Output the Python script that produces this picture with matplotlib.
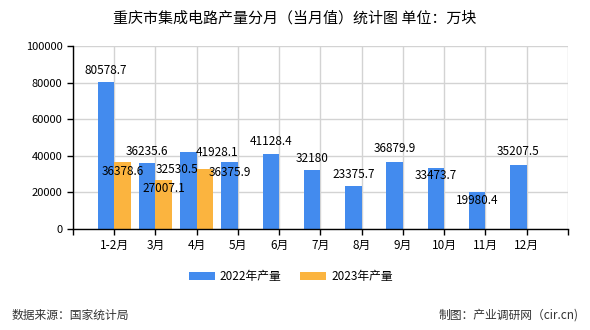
import matplotlib.pyplot as plt
import numpy as np

plt.rcParams['font.family'] = ['Noto Sans CJK SC', 'DejaVu Sans']

# data
months = ['1-2月', '3月', '4月', '5月', '6月', '7月', '8月', '9月', '10月', '11月', '12月']
y2022 = [80578.7, 36235.6, 41928.1, 36375.9, 41128.4, 32180, 23375.7, 36879.9, 33473.7, 19980.4, 35207.5]
y2023 = [36378.6, 27007.1, 32530.5]
yticks = [0, 20000, 40000, 60000, 80000, 100000]

blue = '#438bee'
orange = '#fbb43f'

# label nudges in pixels (dx, dy) relative to bar top
off2022 = [(0, 11), (0, 11), (29, 0), (0, -10), (0, 12), (0, 12),
           (0, 12), (0, 13), (0, -8), (0, -8), (0, 13)]
off2023 = [(0, -9), (0, -9), (-28, 0)]

fig = plt.figure(figsize=(5.9, 3.3), dpi=100)
ax = fig.add_axes([0.1237, 0.306, 0.839, 0.5546])

x = np.arange(len(months))
w = 0.4
ax.bar(x - w / 2, y2022, w, color=blue, label='2022年产量', zorder=2)
ax.bar(x[:len(y2023)] + w / 2, y2023, w, color=orange, label='2023年产量', zorder=2)

px = 0.72  # px -> pt at 100 dpi
for i, v in enumerate(y2022):
    dx, dy = off2022[i]
    s = str(int(v)) if v == int(v) else '%.1f' % v
    ax.annotate(s, (x[i] - w / 2, v), xytext=(dx * px, dy * px), textcoords='offset points',
                ha='center', va='center', fontsize=8.5, zorder=3)
for i, v in enumerate(y2023):
    dx, dy = off2023[i]
    ax.annotate('%.1f' % v, (x[i] + w / 2, v), xytext=(dx * px, dy * px), textcoords='offset points',
                ha='center', va='center', fontsize=8.5, zorder=3)

ax.set_xlim(-1, 11)
ax.set_ylim(0, 100000)
ax.set_xticks(x)
ax.set_xticklabels(months, fontsize=8.5)
ax.set_xticks([-1, 11], minor=True)
ax.set_yticks(yticks)
ax.set_yticklabels([str(t) for t in yticks], fontsize=8)
ax.tick_params(axis='both', which='both', length=4, width=1, color='black', direction='out')
ax.grid(True, color='#d3d3d3', linewidth=1, zorder=0)
ax.grid(True, which='minor', axis='x', color='#d3d3d3', linewidth=1, zorder=0)
ax.set_axisbelow(True)
for sp in ['top', 'right']:
    ax.spines[sp].set_visible(False)
ax.spines['left'].set_linewidth(1)
ax.spines['bottom'].set_linewidth(1)

ax.legend(loc='upper center', bbox_to_anchor=(0.44, -0.165), ncol=2, frameon=False,
          fontsize=8.5, handlelength=2.2, handleheight=0.7, columnspacing=1.6, handletextpad=0.4)

fig.text(0.5, 0.945, '重庆市集成电路产量分月（当月值）统计图 单位：万块', ha='center', va='center', fontsize=10.8)
fig.text(0.02, 0.045, '数据来源：国家统计局', ha='left', va='center', fontsize=8.5, color='#333333')
fig.text(0.98, 0.045, '制图：产业调研网（cir.cn)', ha='right', va='center', fontsize=8.5, color='#333333')

fig.savefig('out.png', dpi=100)
